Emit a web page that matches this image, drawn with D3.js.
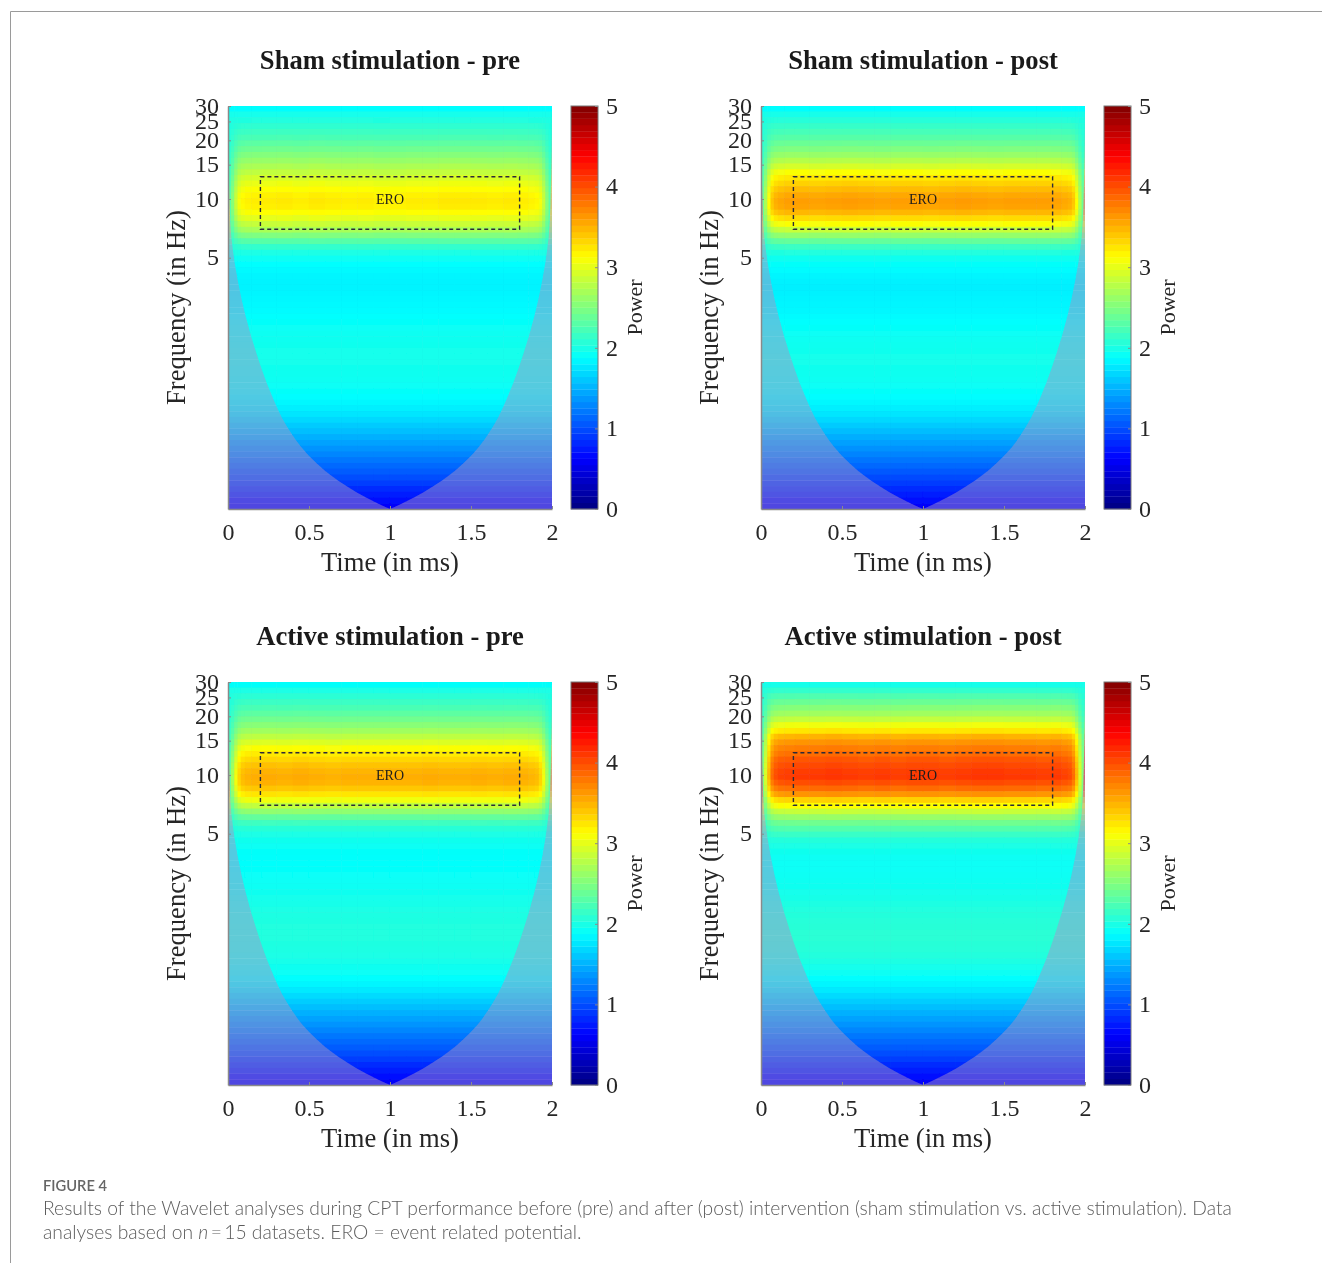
<!DOCTYPE html>
<html>
<head>
<meta charset="utf-8">
<script src="https://cdn.jsdelivr.net/npm/d3@7"></script>
<style>
  html, body { margin: 0; padding: 0; background: #fff; }
  svg { display: block; filter: blur(.35px); }
</style>
</head>
<body>
<div id="svgcontainer"></div>
<script>
// frequency of each heatmap row, top to bottom (Hz)
const rowFreqs = [29.0,27.1,25.3,23.6,22.1,20.6,19.3,18.0,16.8,15.7,14.7,13.7,12.8,12.0,11.2,10.4,9.76,9.12,8.52,7.96,7.43,6.94,6.49,6.06,5.66,5.29,4.94,4.62,4.31,4.03,3.76,3.52,3.28,3.07,2.87,2.68,2.50,2.34,2.18,2.04,1.91,1.78,1.66,1.55,1.45,1.36,1.27,1.18,1.11,1.03,.965,.902,.842,.787,.735,.687,.642,.599,.560,.523,.489,.457,.427,.399,.372,.348,.325,.304,.284,.265]

// power per row
const shamPre = [1.88,1.97,2.03,2.1,2.17,2.24,2.33,2.42,2.52,2.62,2.72,2.82,2.93,3.03,3.12,3.19,3.22,3.2,3.12,3.0,2.85,2.7,2.5,2.3,2.12,2.0,1.93,1.88,1.85,1.83,1.82,1.82,1.83,1.84,1.85,1.86,1.88,1.9,1.92,1.94,1.95,1.96,1.97,1.97,1.97,1.96,1.95,1.94,1.92,1.9,1.87,1.84,1.8,1.75,1.69,1.62,1.56,1.49,1.42,1.35,1.28,1.21,1.14,1.07,1.0,.92,.84,.76,.68,.6]
const shamPost = [1.88,1.98,2.06,2.14,2.22,2.3,2.4,2.5,2.62,2.76,2.92,3.1,3.24,3.35,3.46,3.55,3.6,3.58,3.48,3.3,3.1,2.85,2.6,2.36,2.16,2.03,1.95,1.9,1.86,1.83,1.81,1.8,1.81,1.82,1.83,1.84,1.86,1.88,1.9,1.92,1.94,1.95,1.96,1.97,1.97,1.96,1.95,1.94,1.92,1.9,1.87,1.84,1.8,1.75,1.69,1.62,1.55,1.48,1.41,1.34,1.27,1.2,1.13,1.06,.99,.91,.83,.75,.67,.6]
const activePre = [1.9,2.0,2.08,2.16,2.24,2.33,2.43,2.54,2.66,2.8,2.95,3.1,3.22,3.32,3.42,3.49,3.52,3.5,3.4,3.25,3.05,2.82,2.58,2.36,2.18,2.07,2.0,1.96,1.93,1.9,1.89,1.89,1.9,1.91,1.92,1.93,1.95,1.97,1.98,2.0,2.01,2.02,2.03,2.03,2.03,2.02,2.01,2.0,1.98,1.95,1.92,1.88,1.83,1.77,1.7,1.63,1.56,1.49,1.42,1.35,1.28,1.21,1.14,1.07,1.0,.92,.84,.76,.68,.6]
const activePost = [1.98,2.12,2.26,2.4,2.53,2.66,2.83,3.05,3.25,3.5,3.65,3.76,3.84,3.95,4.02,4.08,4.1,4.0,3.85,3.65,3.35,3.12,2.85,2.62,2.42,2.28,2.15,2.05,2.0,1.96,1.93,1.92,1.92,1.93,1.94,1.95,1.97,1.99,2.01,2.03,2.05,2.06,2.07,2.08,2.08,2.07,2.06,2.04,2.01,1.97,1.93,1.88,1.83,1.77,1.7,1.63,1.56,1.49,1.42,1.35,1.28,1.21,1.14,1.07,1.0,.92,.84,.76,.68,.6]

// time columns (ms) and how strong the band is at each of them
const timeCols = [.01,.03,.05,.07,.09,.12,.17,.25,.35,.45,.55,.65,.75,.85,.95,1.05,1.15,1.25,1.35,1.45,1.55,1.65,1.75,1.83,1.88,1.91,1.93,1.95,1.97,1.99]
const shamPreGain = [.25,.45,.7,.88,.95,.98,.99,1,1.01,.99,1.015,1,.99,1,.98,.985,1,1,1.015,1.015,1.01,1,1.01,.99,.97,.95,.88,.7,.45,.25]
const shamPostGain = [.25,.45,.7,.88,.95,.98,1,1,.99,1,1.01,1,.99,1,1,.99,1,1.01,1,.99,1,1,1,.99,.97,.95,.88,.7,.45,.25]
const activePreGain = [.25,.45,.7,.88,.96,.99,1,1.01,1,1.015,1,.99,1,1,1,1,1,1.01,1,1,1.01,1,1.01,1,.98,.96,.88,.7,.45,.25]
const activePostGain = [.25,.45,.7,.88,.95,.98,.99,1,1,1.01,1,.99,1,.99,1,1,.99,1,1.01,1.01,1,1,.99,1,.98,.96,.88,.7,.45,.25]

// cone of influence: half width (ms) around t = 1 at a given frequency
const coiFreqs = [30,9.3,6.16,3.69,2.49,1.62,1.008,.678,.496,.377,.31,.257]
const coiHalfWidth = [1,.99,.977,.936,.89,.825,.735,.635,.515,.355,.196,0]

// jet colormap
const jetPowers = [0,.625,1.875,3.125,4.375,5]
const jetColors = ["#000080","#0000ff","#00ffff","#ffff00","#ff0000","#800000"]

const panelTitles = ["Sham stimulation - pre","Sham stimulation - post","Active stimulation - pre","Active stimulation - post"]
const panelPowers = [shamPre,shamPost,activePre,activePost]
const panelGains = [shamPreGain,shamPostGain,activePreGain,activePostGain]

const freqTicks = [5,10,15,20,25,30]
const timeTicks = [0,.5,1,1.5,2]
const powerTicks = [0,1,2,3,4,5]
const freqDomain = [.257,30]
const eroBox = { t0: .2, t1: 1.8, f0: 7, f1: 13 }

const caption1 = "Results of the Wavelet analyses during CPT performance before (pre) and after (post) intervention (sham stimulation vs. active stimulation). Data"

const SERIF = "'Liberation Serif', serif"
const width = 1322, height = 1263
const plotW = 324, plotH = 403
const barW = 27

const color = d3.scaleLinear().domain(jetPowers).range(jetColors).clamp(true)

// outside the cone the map sits under a pale veil
const outsideColor = v => {
  const c = d3.rgb(color(v))
  return d3.rgb(80 + c.r * .5, 70 + c.g * .52, 120 + c.b * .42).formatHex()
}

const svg = d3.select("#svgcontainer").append("svg")
  .attr("width", width).attr("height", height)
  .attr("viewBox", [0, 0, width, height])

const defs = svg.append("defs")
defs.append("filter").attr("id", "soft")
  .attr("x", "-2%").attr("y", "-2%").attr("width", "104%").attr("height", "104%")
  .append("feGaussianBlur").attr("stdDeviation", .7)

// page frame
svg.append("path")
  .attr("d", "M1322,11.5H10.5V1263")
  .attr("fill", "none").attr("stroke", "#9a9a9a")

const drawPanel = (originX, originY, idx) => {
  const g = svg.append("g").attr("transform", `translate(${originX},${originY})`)
  const x = d3.scaleLinear().domain([0, 2]).range([0, plotW])
  const y = d3.scaleLog().domain(freqDomain).range([plotH, 0])

  const powers = panelPowers[idx]
  const gains = panelGains[idx]

  // row edges are the geometric midpoints of neighbouring rows
  const rows = rowFreqs.map((f, i) => {
    const up = i == 0 ? freqDomain[1] : Math.sqrt(f * rowFreqs[i - 1])
    const down = i == rowFreqs.length - 1 ? freqDomain[0] : Math.sqrt(f * rowFreqs[i + 1])
    return { f, up, down, power: powers[i] }
  })
  const cols = timeCols.map((t, j) => ({
    t,
    t0: j == 0 ? 0 : (t + timeCols[j - 1]) / 2,
    t1: j == timeCols.length - 1 ? 2 : (t + timeCols[j + 1]) / 2,
    gain: gains[j]
  }))
  const cellValue = (row, col) => row.power > 2 ? 2 + (row.power - 2) * col.gain : row.power

  const clipPlot = `plot${idx}`, clipCone = `cone${idx}`
  defs.append("clipPath").attr("id", clipPlot).append("rect")
    .attr("width", plotW).attr("height", plotH)
  const coneArea = d3.area()
    .x0((d, i) => x(1 - coiHalfWidth[i]))
    .x1((d, i) => x(1 + coiHalfWidth[i]))
    .y(d => y(d))
    .curve(d3.curveMonotoneY)
  defs.append("clipPath").attr("id", clipCone).append("path")
    .attr("d", coneArea(coiFreqs))

  const heat = g.append("g").attr("clip-path", `url(#${clipPlot})`)
    .append("g").attr("filter", "url(#soft)")

  // pale layer, whole plot
  heat.selectAll("rect.outer").data(rows).join("rect")
    .attr("class", "outer")
    .attr("x", -4).attr("width", plotW + 8)
    .attr("y", d => y(d.up) - .2)
    .attr("height", d => y(d.down) - y(d.up) + .4)
    .attr("fill", d => outsideColor(d.power))

  // full strength layer, inside the cone
  const inner = heat.append("g").attr("clip-path", `url(#${clipCone})`)
  inner.selectAll("g").data(rows).join("g")
    .selectAll("rect").data(row => cols.map(col => ({ row, col }))).join("rect")
    .attr("x", d => x(d.col.t0) - .2)
    .attr("width", d => x(d.col.t1) - x(d.col.t0) + .4)
    .attr("y", d => y(d.row.up) - .2)
    .attr("height", d => y(d.row.down) - y(d.row.up) + .4)
    .attr("fill", d => color(cellValue(d.row, d.col)))

  // ERO box
  g.append("rect")
    .attr("x", x(eroBox.t0)).attr("y", y(eroBox.f1))
    .attr("width", x(eroBox.t1) - x(eroBox.t0))
    .attr("height", y(eroBox.f0) - y(eroBox.f1))
    .attr("fill", "none").attr("stroke", "#2b2b3a")
    .attr("stroke-width", 1.4).attr("stroke-dasharray", "4,3")
  g.append("text")
    .attr("x", x(1)).attr("y", y(10) + 4.5)
    .attr("text-anchor", "middle")
    .style("font", `14px ${SERIF}`).attr("fill", "#1c1c1c")
    .text("ERO")

  // axes
  const styleAxis = (sel, size) => {
    sel.select(".domain").attr("stroke", "#8a8a8a").attr("stroke-width", 1.5)
    sel.selectAll(".tick line").attr("stroke", "#8a8a8a")
    sel.selectAll(".tick text").attr("fill", "#262626")
      .style("font", `${size}px ${SERIF}`)
  }
  g.append("g").attr("transform", `translate(0,${plotH})`)
    .call(d3.axisBottom(x).tickValues(timeTicks).tickFormat(d3.format("~g"))
      .tickSizeInner(-3).tickSizeOuter(0).tickPadding(14))
    .call(styleAxis, 24)
  g.append("g")
    .call(d3.axisLeft(y).tickValues(freqTicks).tickFormat(d3.format("d"))
      .tickSizeInner(-3).tickSizeOuter(0).tickPadding(9))
    .call(styleAxis, 24)
    .call(a => a.selectAll(".tick text").attr("dy", "0.3em"))

  // labels
  g.append("text")
    .attr("x", plotW / 2).attr("y", -37)
    .attr("text-anchor", "middle").attr("fill", "#1a1a1a")
    .style("font", `bold 26.6px ${SERIF}`)
    .text(panelTitles[idx])
  g.append("text")
    .attr("x", plotW / 2).attr("y", plotH + 62)
    .attr("text-anchor", "middle").attr("fill", "#262626")
    .style("font", `26.6px ${SERIF}`)
    .text("Time (in ms)")
  g.append("text")
    .attr("transform", `translate(-43,${plotH / 2}) rotate(-90)`)
    .attr("text-anchor", "middle").attr("fill", "#262626")
    .style("font", `26.6px ${SERIF}`)
    .text("Frequency (in Hz)")

  // colorbar
  const bar = g.append("g").attr("transform", `translate(${plotW + 19},0)`)
  const p = d3.scaleLinear().domain([0, 5]).range([plotH, 0])
  const levels = d3.range(64)
  bar.selectAll("rect").data(levels).join("rect")
    .attr("width", barW)
    .attr("y", d => p((d + 1) * 5 / 64))
    .attr("height", d => p(d * 5 / 64) - p((d + 1) * 5 / 64) + .3)
    .attr("fill", d => color((d + .5) * 5 / 64))
  bar.append("rect")
    .attr("width", barW).attr("height", plotH)
    .attr("fill", "none").attr("stroke", "#777")
  bar.append("g").attr("transform", `translate(${barW},0)`)
    .call(d3.axisRight(p).tickValues(powerTicks).tickFormat(d3.format("d"))
      .tickSizeInner(-3).tickSizeOuter(0).tickPadding(8))
    .call(styleAxis, 24)
    .call(a => a.select(".domain").remove())
    .call(a => a.selectAll(".tick text").attr("dy", "0.3em"))
  bar.append("text")
    .attr("transform", `translate(71,${plotH / 2}) rotate(-90)`)
    .attr("text-anchor", "middle").attr("fill", "#262626")
    .style("font", `22px ${SERIF}`)
    .text("Power")
}

drawPanel(228, 106, 0)
drawPanel(761, 106, 1)
drawPanel(228, 682, 2)
drawPanel(761, 682, 3)

// caption
const CAPTION = "Lato, 'Open Sans', sans-serif"
svg.append("text").attr("x", 43).attr("y", 1191)
  .attr("fill", "#666").style("font", `600 14.7px ${CAPTION}`)
  .text("FIGURE 4")
svg.append("text").attr("x", 43).attr("y", 1215)
  .attr("fill", "#5c5c5c").style("font", `300 19.27px ${CAPTION}`)
  .text(caption1)
const line2 = svg.append("text").attr("x", 43).attr("y", 1239)
  .attr("fill", "#5c5c5c").style("font", `300 19.27px ${CAPTION}`)
line2.append("tspan").text("analyses based on ")
line2.append("tspan").attr("font-style", "italic").text("n")
line2.append("tspan").text("\u2009=\u200915 datasets. ERO = event related potential.")
</script>
</body>
</html>
